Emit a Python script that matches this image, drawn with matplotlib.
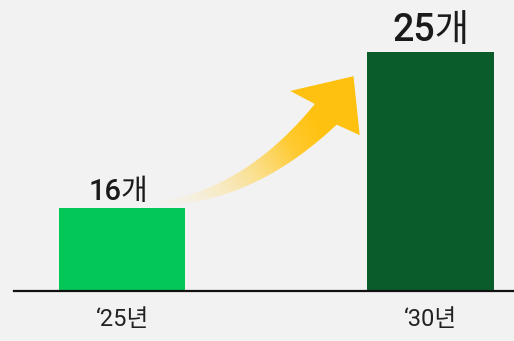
import numpy as np
import matplotlib.pyplot as plt
from matplotlib.patches import Polygon

plt.rcParams['font.family'] = ['Noto Sans CJK KR', 'DejaVu Sans']
label_family = ['Roboto', 'Noto Sans CJK KR', 'DejaVu Sans']

# data
years = ['\u201825년', '\u201830년']
values = [16, 25]
value_labels = ['16개', '25개']
bar_colors = ['#03c756', '#0b5c2b']
bg = '#f2f2f2'

W, H = 514, 341
fig = plt.figure(figsize=(W / 100, H / 100), dpi=100, facecolor=bg)
ax = fig.add_axes([14 / W, 50 / H, 1 - 14 / W, 1 - 50 / H])
ax.set_facecolor(bg)

x = np.arange(len(values))
bw = 0.41
ax.bar(x, values, width=bw, color=bar_colors, zorder=2)
ax.set_xlim(-0.35, 1.27)
ax.set_ylim(11.2, 28)

for s in ['top', 'right', 'left']:
    ax.spines[s].set_visible(False)
ax.spines['bottom'].set_linewidth(1.6)
ax.spines['bottom'].set_color('#111111')
ax.set_yticks([])
ax.set_xticks(x, years, fontsize=17, family=label_family)
ax.tick_params(axis='x', length=0, pad=12, colors='#222222')

ax.annotate(value_labels[0], (x[0] - 0.01, values[0]), xytext=(0, 1),
            textcoords='offset points', ha='center', va='bottom',
            fontsize=21, fontweight='medium', family=label_family,
            color='#1a1a1a')
ax.annotate(value_labels[1], (x[1], values[1]), xytext=(0, 2),
            textcoords='offset points', ha='center', va='bottom',
            fontsize=27, fontweight='medium', family=label_family,
            color='#1a1a1a')

# gradient arrow from bar 1 toward bar 2 (geometry in display pixels)
fig.canvas.draw()
T = ax.transData
p0 = T.transform((x[0] + 0.09, values[0] + 0.22))
pc = T.transform((x[0] + 0.40, values[0] + 0.45))
p2 = T.transform((x[0] + 0.66, values[0] + 5.4))
tip = T.transform((x[0] + 0.75, values[0] + 7.6))
c1 = T.transform((x[0] + 0.545, values[0] + 6.75))
c2 = T.transform((x[0] + 0.77, values[0] + 4.2))

ts = np.linspace(0, 1, 80)
curve = ((1 - ts)[:, None] ** 2 * p0 + 2 * ((1 - ts) * ts)[:, None] * pc
         + (ts ** 2)[:, None] * p2)
d = np.gradient(curve, axis=0)
nrm = np.stack([-d[:, 1], d[:, 0]], axis=1)
nrm /= np.linalg.norm(nrm, axis=1)[:, None]
half = (1.5 + 13.5 * ts ** 1.1)[:, None]
upper = curve + nrm * half
lower = curve - nrm * half
head_l = c1 if np.dot(c1 - p2, nrm[-1]) > 0 else c2
head_r = c2 if head_l is c1 else c1
poly = np.vstack([upper, head_l, tip, head_r, lower[::-1]])

ov = fig.add_axes([0, 0, 1, 1], zorder=1)
ov.set_xlim(0, W)
ov.set_ylim(0, H)
ov.axis('off')
ov.patch.set_alpha(0)

xmin, ymin = poly.min(axis=0) - 2
xmax, ymax = poly.max(axis=0) + 2
gx, gy = np.meshgrid(np.linspace(xmin, xmax, 300), np.linspace(ymin, ymax, 300))
dirv = tip - p0
t = ((gx - p0[0]) * dirv[0] + (gy - p0[1]) * dirv[1]) / np.dot(dirv, dirv)
t = np.clip(t, 0, 1)
c_start = np.array([1.0, 0.95, 0.78])
c_end = np.array([1.0, 0.76, 0.06])
rgba = np.zeros(gx.shape + (4,))
rgba[..., :3] = c_start + (c_end - c_start) * np.clip(t * 1.3, 0, 1)[..., None]
rgba[..., 3] = np.clip(t * 1.6, 0, 1) ** 1.1
im = ov.imshow(rgba, extent=(xmin, xmax, ymin, ymax), origin='lower',
               aspect='auto', interpolation='bilinear')
patch = Polygon(poly, closed=True, facecolor='none', edgecolor='none')
ov.add_patch(patch)
im.set_clip_path(patch)

fig.savefig('out.png', dpi=100, facecolor=bg)
